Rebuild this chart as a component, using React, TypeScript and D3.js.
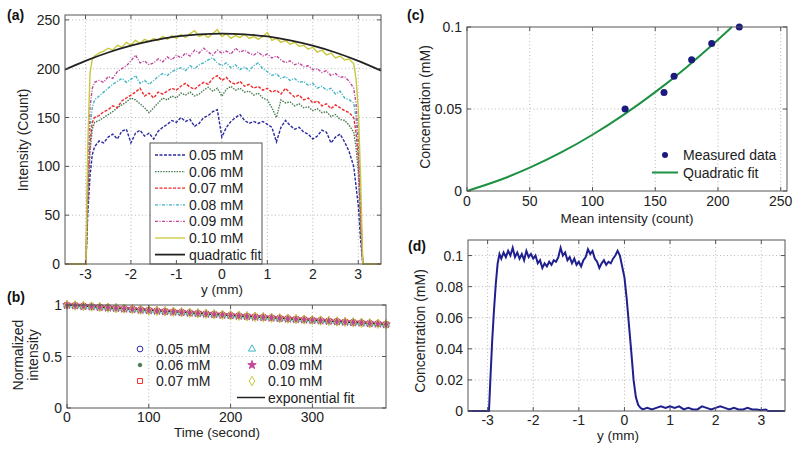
import * as d3 from "d3";
import React from "react";

const FONT = "'Liberation Sans', Arial, Helvetica, sans-serif";

// ---- (a) intensity profiles across the channel ----
const profileY = [
  -3.45, -2.99, -2.95, -2.9, -2.85, -2.8, -2.7, -2.6, -2.5, -2.4, -2.3, -2.2, -2.1, -2.0,
  -1.9, -1.8, -1.7, -1.6, -1.5, -1.4, -1.3, -1.2, -1.1, -1.0, -0.9, -0.8, -0.7, -0.6,
  -0.5, -0.4, -0.3, -0.2, -0.1, 0, 0.1, 0.2, 0.3, 0.4, 0.5, 0.6, 0.7, 0.8, 0.9, 1.0,
  1.1, 1.2, 1.3, 1.4, 1.5, 1.6, 1.7, 1.8, 1.9, 2.0, 2.1, 2.2, 2.3, 2.4, 2.5, 2.6, 2.7,
  2.8, 2.9, 2.95, 3.0, 3.05, 3.1, 3.5,
];
const int005 = [
  0, 0, 50, 90, 112, 120, 126, 124, 130, 133, 128, 136, 138, 124, 134, 137, 131, 134, 128, 136,
  140, 143, 147, 145, 150, 146, 148, 141, 144, 150, 152, 156, 158, 130, 140, 146, 150, 153, 147,
  144, 146, 144, 146, 143, 140, 125, 140, 147, 142, 138, 140, 135, 133, 128, 131, 137, 135, 124,
  130, 133, 125, 115, 100, 80, 60, 25, 0, 0,
];
const int006 = [
  0, 0, 60, 115, 138, 145, 147, 150, 153, 156, 160, 163, 166, 170, 168, 164, 160, 155, 160, 165,
  170, 168, 172, 170, 175, 173, 176, 172, 174, 178, 181, 177, 180, 172, 179, 182, 178, 180, 176,
  177, 173, 175, 170, 168, 160, 150, 168, 165, 166, 162, 164, 160, 161, 157, 159, 155, 156, 151,
  153, 148, 147, 142, 135, 120, 95, 40, 0, 0,
];
const int007 = [
  0, 0, 70, 125, 145, 150, 152, 156, 158, 162, 160, 167, 170, 173, 176, 180, 172, 175, 170, 176,
  174, 177, 180, 178, 182, 185, 181, 179, 183, 186, 184, 190, 193, 188, 191, 186, 184, 187, 182,
  184, 180, 182, 178, 180, 176, 178, 174, 180, 175, 171, 173, 168, 170, 165, 167, 162, 164, 159,
  163, 160, 157, 155, 150, 135, 110, 50, 0, 0,
];
const int008 = [
  0, 0, 80, 140, 160, 168, 172, 176, 180, 184, 187, 190, 186, 189, 193, 185, 188, 184, 188, 192,
  195, 193, 197, 199, 201, 198, 203, 200, 204, 206, 209, 211, 206, 203, 206, 201, 204, 199, 202,
  198, 203, 206, 200, 197, 193, 195, 190, 192, 188, 190, 186, 187, 183, 185, 180, 182, 178, 180,
  174, 177, 170, 168, 165, 150, 120, 55, 0, 0,
];
const int009 = [
  0, 0, 90, 160, 180, 186, 188, 186, 192, 190, 197, 200, 203, 208, 214, 206, 208, 204, 206, 210,
  207, 212, 209, 214, 211, 216, 213, 219, 216, 221, 217, 214, 219, 216, 218, 215, 221, 217, 219,
  216, 214, 217, 213, 215, 211, 213, 209, 206, 208, 204, 206, 202, 203, 199, 200, 196, 198, 193,
  195, 191, 192, 187, 180, 165, 130, 60, 0, 0,
];
const int010 = [
  0, 0, 120, 195, 210, 213, 216, 218, 221, 219, 224, 222, 227, 224, 229, 226, 230, 228, 231, 229,
  233, 230, 234, 231, 235, 232, 236, 239, 233, 235, 232, 236, 240, 233, 236, 231, 234, 232, 235,
  231, 233, 230, 233, 237, 229, 231, 227, 229, 225, 227, 223, 224, 220, 222, 217, 219, 214, 216,
  211, 213, 209, 210, 205, 190, 160, 90, 0, 0,
];
const quadFitY = [-3.45, -3, -2.5, -2, -1.5, -1, -0.5, 0, 0.5, 1, 1.5, 2, 2.5, 3, 3.5];
const quadFitIntensity = [199, 208, 216.6, 223.6, 229, 233, 235.2, 236, 235.2, 233, 229, 223.6, 216.6, 208, 198];

const profileLabels = ["0.05 mM", "0.06 mM", "0.07 mM", "0.08 mM", "0.09 mM", "0.10 mM"];
const profileSeries = [int005, int006, int007, int008, int009, int010];
const seriesColors = ["#2b2b9e", "#4a7d52", "#ef2a2a", "#3fb4c4", "#c0469c", "#c8c83c"];
const dashes = ["3,1.5", "1.5,1.2", "3,1.5", "3,1.5,1,1.5", "3,1.5,1,1.5", ""];

// ---- (b) photobleaching ----
const bleachTime = [
  0, 10, 20, 30, 40, 50, 60, 70, 80, 90, 100, 110, 120, 130, 140, 150, 160, 170, 180, 190,
  200, 210, 220, 230, 240, 250, 260, 270, 280, 290, 300, 310, 320, 330, 340, 350, 360, 370, 380, 390,
];
const bleach005 = [1.000,0.996,0.990,0.985,0.980,0.975,0.969,0.965,0.960,0.954,0.949,0.944,0.939,0.934,0.930,0.925,0.920,0.915,0.910,0.905,0.900,0.896,0.891,0.886,0.882,0.877,0.872,0.868,0.863,0.859,0.854,0.850,0.845,0.841,0.836,0.832,0.828,0.823,0.819,0.814];
const bleach006 = [1.000,0.994,0.989,0.983,0.978,0.973,0.968,0.963,0.958,0.952,0.947,0.942,0.937,0.933,0.928,0.923,0.918,0.913,0.908,0.903,0.898,0.894,0.889,0.884,0.880,0.875,0.870,0.866,0.861,0.857,0.852,0.848,0.843,0.839,0.834,0.830,0.826,0.821,0.817,0.812];
const bleach007 = [1.000,0.995,0.990,0.984,0.979,0.975,0.970,0.964,0.959,0.954,0.949,0.943,0.938,0.934,0.929,0.925,0.919,0.914,0.910,0.904,0.899,0.895,0.890,0.886,0.881,0.876,0.871,0.867,0.862,0.858,0.853,0.849,0.845,0.840,0.835,0.831,0.827,0.822,0.818,0.813];
const bleach008 = [1.000,0.995,0.988,0.984,0.978,0.974,0.968,0.964,0.958,0.953,0.947,0.943,0.937,0.934,0.928,0.924,0.918,0.914,0.908,0.904,0.898,0.895,0.889,0.885,0.880,0.876,0.870,0.867,0.861,0.858,0.852,0.849,0.843,0.840,0.834,0.831,0.826,0.822,0.817,0.813];
const bleach009 = [1.000,0.996,0.989,0.985,0.979,0.974,0.970,0.964,0.960,0.953,0.949,0.943,0.939,0.934,0.930,0.924,0.920,0.914,0.910,0.904,0.900,0.895,0.891,0.885,0.882,0.876,0.872,0.867,0.863,0.858,0.854,0.849,0.845,0.840,0.836,0.831,0.828,0.822,0.819,0.813];
const bleach010 = [1.000,0.995,0.989,0.984,0.979,0.974,0.969,0.964,0.959,0.953,0.948,0.943,0.938,0.934,0.929,0.924,0.919,0.914,0.909,0.904,0.899,0.895,0.890,0.885,0.881,0.876,0.871,0.867,0.862,0.858,0.853,0.849,0.844,0.840,0.835,0.831,0.827,0.822,0.818,0.813];
const bleachSeries = [bleach005, bleach006, bleach007, bleach008, bleach009, bleach010];
const expFitTime = [0, 50, 100, 150, 200, 250, 300, 350, 390];
const expFitValue = [1, 0.974, 0.948, 0.924, 0.899, 0.876, 0.853, 0.831, 0.813];
const bleachSymbols = [d3.symbolCircle, d3.symbolCircle, d3.symbolSquare, d3.symbolTriangle, d3.symbolStar, d3.symbolDiamond];
const bleachFilled = [false, true, false, false, true, false];
const bleachSizes = [26, 10, 24, 22, 22, 26];

// ---- (c) calibration ----
const meanIntensity = [126, 157, 165, 179, 195, 217];
const measuredConc = [0.05, 0.06, 0.07, 0.08, 0.09, 0.1];
const calFitIntensity = [0, 25, 50, 75, 100, 125, 150, 175, 200, 211];
const calFitConc = [0, 0.0064, 0.0142, 0.0235, 0.0343, 0.0466, 0.0603, 0.0755, 0.0922, 0.1];

// ---- (d) concentration profile ----
const dPos = [
  -3.43, -2.97, -2.94, -2.9, -2.86, -2.82, -2.78, -2.74, -2.7, -2.65, -2.6, -2.55, -2.5, -2.45,
  -2.4, -2.35, -2.3, -2.25, -2.2, -2.15, -2.1, -2.05, -2.0, -1.95, -1.9, -1.85, -1.8, -1.75,
  -1.7, -1.65, -1.6, -1.55, -1.5, -1.45, -1.4, -1.35, -1.3, -1.25, -1.2, -1.15, -1.1, -1.05,
  -1.0, -0.95, -0.9, -0.85, -0.8, -0.75, -0.7, -0.65, -0.6, -0.55, -0.5, -0.45, -0.4, -0.35,
  -0.3, -0.25, -0.2, -0.15, -0.1, -0.05, 0, 0.05, 0.1, 0.15, 0.2, 0.25, 0.3, 0.35, 0.4, 0.5,
  0.6, 0.7, 0.8, 0.9, 1.0, 1.1, 1.2, 1.3, 1.4, 1.5, 1.6, 1.7, 1.8, 1.9, 2.0, 2.1, 2.2, 2.3,
  2.4, 2.5, 2.6, 2.7, 2.8, 2.9, 3.0, 3.1, 3.15, 3.52,
];
const dConc = [
  0, 0, 0.02, 0.045, 0.065, 0.082, 0.095, 0.101, 0.098, 0.102, 0.099, 0.103, 0.1, 0.105,
  0.099, 0.102, 0.098, 0.101, 0.097, 0.103, 0.099, 0.101, 0.098, 0.1, 0.095, 0.097, 0.092, 0.095,
  0.093, 0.096, 0.094, 0.097, 0.096, 0.099, 0.105, 0.1, 0.102, 0.097, 0.099, 0.095, 0.098, 0.094,
  0.096, 0.093, 0.097, 0.099, 0.104, 0.101, 0.103, 0.098, 0.096, 0.092, 0.095, 0.097, 0.094, 0.096,
  0.095, 0.098, 0.1, 0.103, 0.1, 0.093, 0.086, 0.072, 0.055, 0.038, 0.02, 0.009, 0.004, 0.002, 0.001, 0.002,
  0.001, 0.002, 0.003, 0.002, 0.003, 0.002, 0.003, 0.001, 0.002, 0.001, 0.001, 0.003, 0.002, 0.001, 0.002, 0.003, 0.002, 0.001,
  0.002, 0.001, 0.001, 0.002, 0.001, 0.001, 0.0005, 0.001, 0, 0,
];

type Scale = d3.ScaleLinear<number, number>;

function Frame({ x, y, xTicks, yTicks, fy = (v: number) => String(v), xOff = 16, children }: {
  x: Scale; y: Scale; xTicks: number[]; yTicks: number[]; fy?: (v: number) => string; xOff?: number; children?: React.ReactNode;
}) {
  const [l, r] = x.range();
  const [b, t] = y.range();
  return (
    <g>
      <rect x={l} y={t} width={r - l} height={b - t} fill="#fff" />
      {xTicks.filter((v) => x(v) > l + 1 && x(v) < r - 1).map((v) => (
        <line key={"gx" + v} x1={x(v)} x2={x(v)} y1={t} y2={b} stroke="#b8b8b8" strokeDasharray="1,2.5" />
      ))}
      {yTicks.filter((v) => y(v) < b - 1 && y(v) > t + 1).map((v) => (
        <line key={"gy" + v} x1={l} x2={r} y1={y(v)} y2={y(v)} stroke="#b8b8b8" strokeDasharray="1,2.5" />
      ))}
      {children}
      <rect x={l} y={t} width={r - l} height={b - t} fill="none" stroke="#555" strokeWidth={1} />
      {xTicks.map((v) => (
        <g key={"tx" + v}>
          <line x1={x(v)} x2={x(v)} y1={b} y2={b - 4} stroke="#555" />
          <line x1={x(v)} x2={x(v)} y1={t} y2={t + 4} stroke="#555" />
          <text x={x(v)} y={b + xOff} textAnchor="middle" fontSize={14} fontFamily={FONT} fill="#222">{String(v)}</text>
        </g>
      ))}
      {yTicks.map((v) => (
        <g key={"ty" + v}>
          <line x1={l} x2={l + 4} y1={y(v)} y2={y(v)} stroke="#555" />
          <line x1={r} x2={r - 4} y1={y(v)} y2={y(v)} stroke="#555" />
          <text x={l - 5} y={y(v) + 5} textAnchor="end" fontSize={14} fontFamily={FONT} fill="#222">{fy(v)}</text>
        </g>
      ))}
    </g>
  );
}

function Label({ x, y, text, rotate = false, size = 14 }: { x: number; y: number; text: string; rotate?: boolean; size?: number }) {
  return (
    <text
      transform={rotate ? `translate(${x},${y}) rotate(-90)` : `translate(${x},${y})`}
      textAnchor="middle" fontSize={size} fontFamily={FONT} fill="#222"
    >{text}</text>
  );
}

function PanelTag({ x, y, text }: { x: number; y: number; text: string }) {
  return <text x={x} y={y} fontSize={14} fontWeight="bold" fontFamily={FONT} fill="#111">{text}</text>;
}

export default function App() {
  // (a)
  const xa = d3.scaleLinear().domain([-3.45, 3.5]).range([65, 381]);
  const ya = d3.scaleLinear().domain([0, 255]).range([264, 15]);
  const lineA = d3.line<[number, number]>().x((d) => xa(d[0])).y((d) => ya(d[1]));
  const fitA = d3.line<[number, number]>().x((d) => xa(d[0])).y((d) => ya(d[1])).curve(d3.curveNatural);

  // (b)
  const xb = d3.scaleLinear().domain([0, 390]).range([67, 386]);
  const yb = d3.scaleLinear().domain([0, 1]).range([408, 305]);
  const fitB = d3.line<[number, number]>().x((d) => xb(d[0])).y((d) => yb(d[1])).curve(d3.curveNatural);

  // (c)
  const xc = d3.scaleLinear().domain([0, 255]).range([467, 787]);
  const yc = d3.scaleLinear().domain([0, 0.1]).range([191, 27]);
  const fitC = d3.line<[number, number]>().x((d) => xc(d[0])).y((d) => yc(d[1])).curve(d3.curveNatural);

  // (d)
  const xd = d3.scaleLinear().domain([-3.43, 3.52]).range([468, 785]);
  const yd = d3.scaleLinear().domain([0, 0.11]).range([411, 240]);
  const lineD = d3.line<[number, number]>().x((d) => xd(d[0])).y((d) => yd(d[1]));

  const legA = (i: number) => 155 + i * 16.6;
  const sym = (i: number) => d3.symbol(bleachSymbols[i], bleachSizes[i])() || "";

  const fmtSmall = (v: number) => (v === 0 ? "0" : String(+v.toFixed(2)));

  return (
    <svg width={800} height={451} style={{ position: "absolute", left: 0, top: 0, background: "#fff" }}>
      <rect width={800} height={451} fill="#fff" />

      {/* (a) */}
      <PanelTag x={7} y={20} text="(a)" />
      <Frame x={xa} y={ya} xTicks={[-3, -2, -1, 0, 1, 2, 3]} yTicks={[0, 50, 100, 150, 200, 250]} xOff={15}>
        {profileSeries.map((s, i) => (
          <path key={i} d={lineA(d3.zip(profileY, s) as [number, number][]) || ""} fill="none"
            stroke={seriesColors[i]} strokeWidth={1.4} strokeDasharray={dashes[i]} />
        ))}
        <path d={fitA(d3.zip(quadFitY, quadFitIntensity) as [number, number][]) || ""} fill="none" stroke="#222" strokeWidth={1.8} />
        <rect x={150} y={143} width={112} height={121} fill="#fff" stroke="#555" />
        {profileLabels.map((lab, i) => (
          <g key={lab}>
            <line x1={155} x2={185} y1={legA(i)} y2={legA(i)} stroke={seriesColors[i]} strokeWidth={1.3} strokeDasharray={dashes[i]} />
            <text x={189} y={legA(i) + 5} fontSize={14} fontFamily={FONT} fill="#222">{lab}</text>
          </g>
        ))}
        <line x1={155} x2={185} y1={legA(6)} y2={legA(6)} stroke="#222" strokeWidth={1.8} />
        <text x={189} y={legA(6) + 5} fontSize={14} fontFamily={FONT} fill="#222">quadratic fit</text>
      </Frame>
      <Label x={28} y={140} text="Intensity (Count)" rotate />
      <Label x={222} y={294} text="y (mm)" size={13.5} />

      {/* (b) */}
      <PanelTag x={7} y={302} text="(b)" />
      <Frame x={xb} y={yb} xTicks={[0, 100, 200, 300]} yTicks={[0, 0.5, 1]} xOff={14}>
        <path d={fitB(d3.zip(expFitTime, expFitValue) as [number, number][]) || ""} fill="none" stroke="#222" strokeWidth={1.5} />
        {bleachSeries.map((s, i) => (
          <g key={i}>
            {s.map((v, j) => (
              <path key={j} d={sym(i)} transform={`translate(${xb(bleachTime[j])},${yb(v)})`}
                fill={bleachFilled[i] ? seriesColors[i] : "none"} stroke={seriesColors[i]} strokeWidth={1} />
            ))}
          </g>
        ))}
        {profileLabels.map((lab, i) => {
          const col = Math.floor(i / 3);
          const row = i % 3;
          const mx = col === 0 ? 140 : 252;
          const my = 349 + row * 16;
          return (
            <g key={lab}>
              <path d={sym(i)} transform={`translate(${mx},${my})`} fill={bleachFilled[i] ? seriesColors[i] : "none"} stroke={seriesColors[i]} />
              <text x={mx + 16} y={my + 5} fontSize={14} fontFamily={FONT} fill="#222">{lab}</text>
            </g>
          );
        })}
        <line x1={237} x2={265} y1={397.5} y2={397.5} stroke="#222" strokeWidth={1.5} />
        <text x={268} y={402.5} fontSize={14} fontFamily={FONT} fill="#222">exponential fit</text>
      </Frame>
      <Label x={23} y={355} text="Normalized" rotate />
      <Label x={38} y={355} text="intensity" rotate />
      <Label x={217} y={437} text="Time (second)" size={13.5} />

      {/* (c) */}
      <PanelTag x={407} y={20} text="(c)" />
      <Frame x={xc} y={yc} xTicks={[0, 50, 100, 150, 200, 250]} yTicks={[0, 0.05, 0.1]} xOff={15}>
        <path d={fitC(d3.zip(calFitIntensity, calFitConc) as [number, number][]) || ""} fill="none" stroke="#1c9142" strokeWidth={2} />
        {meanIntensity.map((m, i) => (
          <circle key={i} cx={xc(m)} cy={yc(measuredConc[i])} r={3.5} fill="#1b1b7d" />
        ))}
        <circle cx={665} cy={155} r={3} fill="#1b1b7d" />
        <text x={683} y={160} fontSize={14} fontFamily={FONT} fill="#222">Measured data</text>
        <line x1={652} x2={678} y1={172.5} y2={172.5} stroke="#1c9142" strokeWidth={2} />
        <text x={683} y={177.5} fontSize={14} fontFamily={FONT} fill="#222">Quadratic fit</text>
      </Frame>
      <Label x={430} y={107} text="Concentration (mM)" rotate />
      <Label x={627} y={223} text="Mean intensity (count)" size={13.5} />

      {/* (d) */}
      <PanelTag x={408} y={251} text="(d)" />
      <Frame x={xd} y={yd} xTicks={[-3, -2, -1, 0, 1, 2, 3]} yTicks={[0, 0.02, 0.04, 0.06, 0.08, 0.1]} fy={fmtSmall} xOff={14}>
        <path d={lineD(d3.zip(dPos, dConc) as [number, number][]) || ""} fill="none" stroke="#1f1f8f" strokeWidth={2} />
      </Frame>
      <Label x={425} y={331} text="Concentration (mM)" rotate />
      <Label x={618} y={440} text="y (mm)" size={13.5} />
    </svg>
  );
}
